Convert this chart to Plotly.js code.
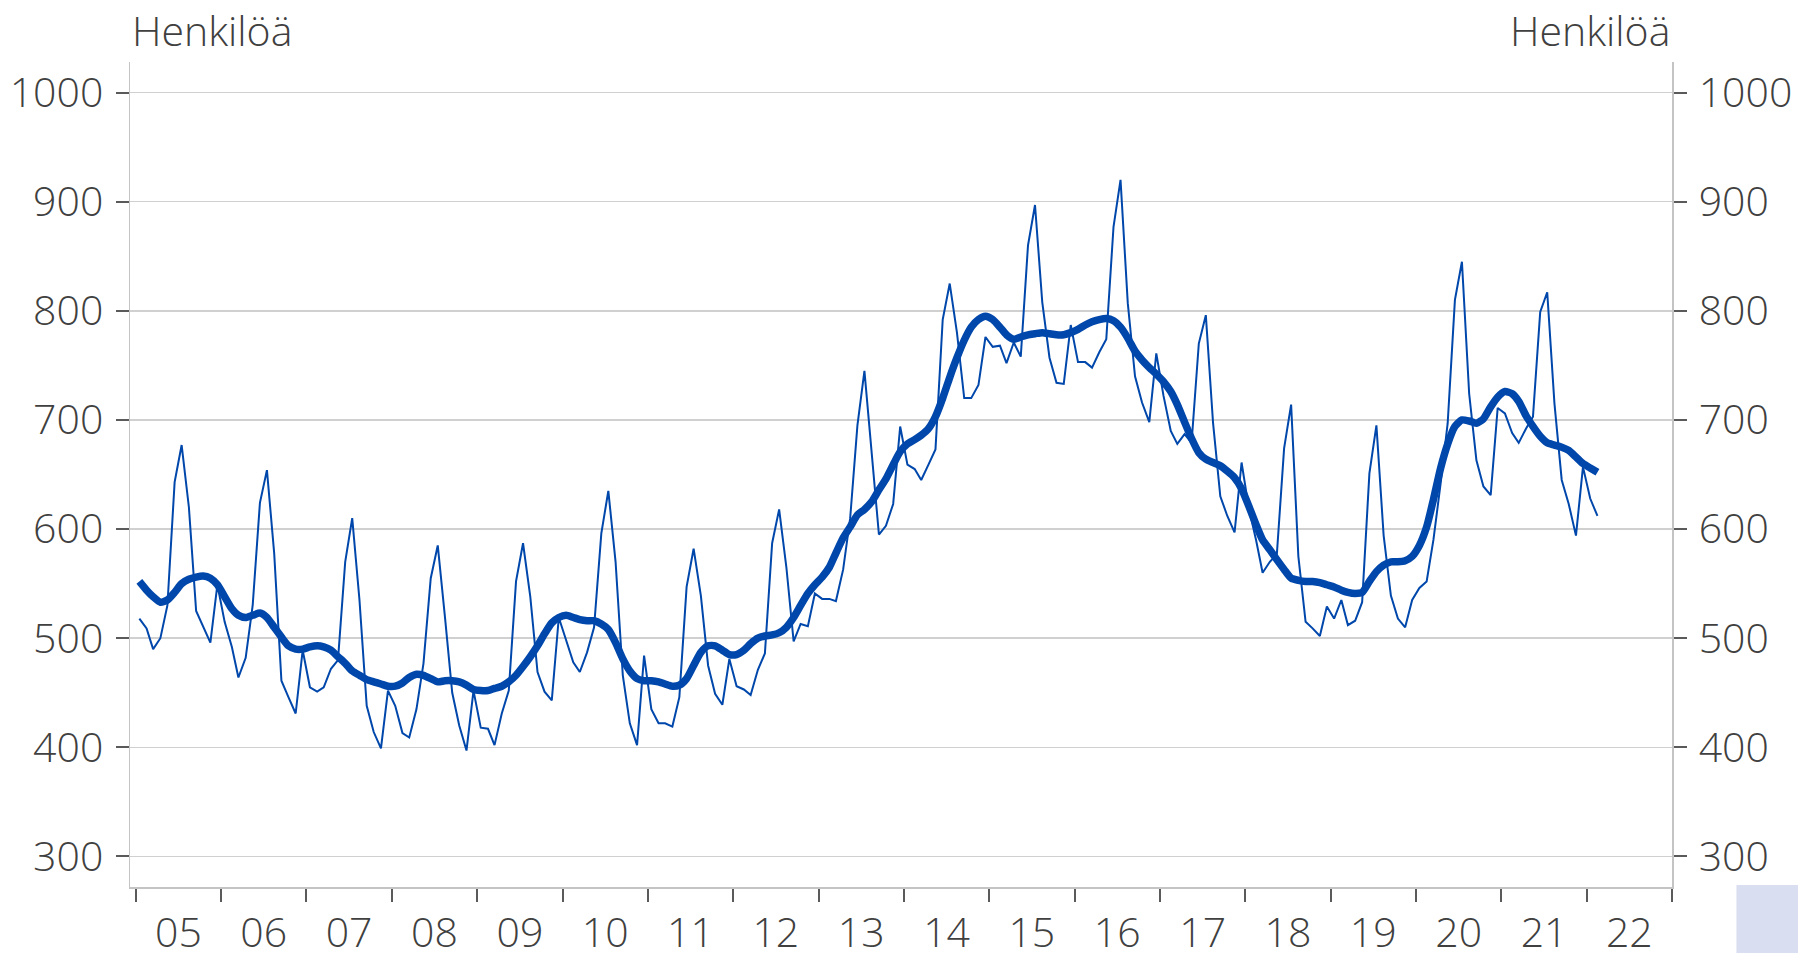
<!DOCTYPE html>
<html>
<head>
<meta charset="utf-8">
<script src="https://cdn.plot.ly/plotly-3.0.1.min.js"></script>
<style>
  html, body { margin: 0; padding: 0; background: #fff; }
  #chart { width: 1798px; height: 953px; }
</style>
</head>
<body>
<div id="chart"></div>
<script>
// monthly figures, Jan 2005 - Feb 2022
const startYear = 2005;
const monthly = [
  518, 509, 490, 500, 530, 643, 677, 620, 525, 510, 496, 549,
  515, 492, 464, 482, 530, 624, 654, 578, 461, 446, 431, 489,
  455, 451, 455, 472, 480, 570, 610, 535, 438, 414, 399, 452,
  438, 413, 409, 435, 477, 555, 585, 519, 450, 420, 397, 452,
  418, 417, 402, 431, 452, 552, 587, 538, 469, 451, 443, 519,
  498, 478, 469, 487, 510, 596, 635, 570, 466, 422, 402, 484,
  435, 422, 422, 419, 446, 547, 582, 539, 475, 449, 439, 481,
  456, 453, 448, 471, 486, 587, 618, 565, 497, 513, 511, 541,
  536, 536, 534, 563, 610, 695, 745, 667, 595, 603, 623, 694,
  659, 655, 645, 659, 673, 792, 825, 780, 720, 720, 732, 776,
  767, 768, 752, 771, 758, 860, 897, 808, 757, 734, 733, 787,
  753, 753, 748, 762, 774, 877, 920, 807, 740, 716, 698, 761,
  722, 690, 678, 687, 679, 770, 796, 697, 630, 612, 597, 661,
  619, 590, 560, 570, 577, 674, 714, 575, 515, 509, 502, 529,
  518, 535, 512, 516, 533, 651, 695, 594, 539, 518, 510, 535,
  546, 552, 590, 642, 697, 810, 845, 724, 663, 639, 631, 711,
  706, 688, 679, 692, 703, 799, 817, 715, 645, 623, 594, 657,
  628, 612
];
const trend = [
  552, 544, 538, 533, 535, 542, 550, 554, 556, 557, 555, 549,
  538, 527, 521, 519, 521, 523, 519, 510, 501, 493, 490, 490,
  492, 493, 492, 489, 483, 477, 470, 466, 462, 460, 458, 456,
  456, 459, 464, 467, 466, 463, 460, 461, 461, 460, 457, 453,
  452, 452, 454, 456, 460, 466, 474, 483, 493, 504, 514, 519,
  521, 519, 517, 516, 516, 513, 508, 496, 481, 470, 463, 461,
  461, 460, 458, 456, 457, 463, 475, 487, 493, 493, 489, 485,
  485, 489, 495, 500, 502, 503, 505, 510, 519, 530, 541, 549,
  556, 565, 578, 592, 602, 613, 618, 625, 636, 646, 659, 671,
  678, 682, 686, 692, 703, 720, 739, 757, 773, 785, 792, 795,
  792, 785, 778, 774, 776, 778, 779, 780, 779, 778, 778, 780,
  783, 787, 790, 792, 793, 791, 785, 775, 763, 755, 748, 742,
  735, 726, 714, 698, 683, 670, 664, 661, 658, 653, 647, 637,
  621, 604, 590, 581, 572, 563, 555, 553, 552, 552, 551, 549,
  547, 544, 542, 541, 542, 552, 561, 567, 570, 570, 571, 575,
  585, 602, 627, 656, 678, 694, 700, 699, 697, 701, 712, 721,
  726, 724, 717, 704, 694, 685, 679, 677, 675, 672, 666, 660,
  656, 652
];
const yTicks = [300, 400, 500, 600, 700, 800, 900, 1000];
const unitLabel = 'Henkilöä';

const dates = monthly.map((_, i) => {
  const y = startYear + Math.floor(i / 12);
  const m = String(i % 12 + 1).padStart(2, '0');
  return y + '-' + m + '-16';
});

const blue = '#0047ab';
const textCol = '#404040';
const font = { family: 'Open Sans, Liberation Sans, sans-serif', size: 41, color: textCol, weight: 300 };

const traces = [
  { x: dates, y: monthly, type: 'scatter', mode: 'lines',
    line: { color: blue, width: 2 }, hoverinfo: 'skip' },
  // trend sits on the right-hand axis (same scale) so that axis gets drawn
  { x: dates, y: trend, type: 'scatter', mode: 'lines', yaxis: 'y2',
    line: { color: blue, width: 7.5, shape: 'spline', smoothing: 0.6 }, hoverinfo: 'skip' }
];

const yBase = {
  range: [272, 1028],
  tickvals: yTicks,
  showgrid: true, gridcolor: '#d0d0d0', gridwidth: 1.5,
  showline: true, linecolor: '#c4c4c4', linewidth: 1.5,
  ticks: 'outside', ticklen: 13, tickwidth: 2, tickcolor: '#5a5a5a',
  ticklabelstandoff: 4,
  tickfont: font, zeroline: false, fixedrange: true
};

const layout = {
  width: 1798, height: 953,
  margin: { l: 130, r: 126, t: 62, b: 66 },
  paper_bgcolor: '#fff', plot_bgcolor: '#fff',
  showlegend: false,
  font: font,
  xaxis: {
    type: 'date',
    range: ['2004-12-07', '2023-01-01'],
    dtick: 'M12', tick0: '2005-01-01',
    tickformat: '%y', ticklabelmode: 'period',
    showgrid: false, zeroline: false,
    showline: true, linecolor: '#c4c4c4', linewidth: 1.5,
    ticks: 'outside', ticklen: 13, tickwidth: 2, tickcolor: '#5a5a5a',
    ticklabelstandoff: -4,
    tickfont: font
  },
  yaxis: Object.assign({}, yBase, { side: 'left' }),
  yaxis2: Object.assign({}, yBase, { side: 'right', overlaying: 'y', showgrid: false }),
  annotations: [
    { text: unitLabel, xref: 'paper', yref: 'paper', x: 0, y: 1.039,
      xanchor: 'left', yanchor: 'middle', showarrow: false, font: font },
    { text: unitLabel, xref: 'paper', yref: 'paper', x: 1, y: 1.039,
      xanchor: 'right', yanchor: 'middle', showarrow: false, font: font }
  ],
  shapes: [
    { type: 'rect', xref: 'paper', yref: 'paper', x0: 1.0418, x1: 1.085, y0: 0.0024, y1: -0.09,
      fillcolor: '#d9dff0', line: { width: 0 }, layer: 'above' }
  ]
};

Plotly.newPlot('chart', traces, layout, { displayModeBar: false, staticPlot: true });
</script>
</body>
</html>
